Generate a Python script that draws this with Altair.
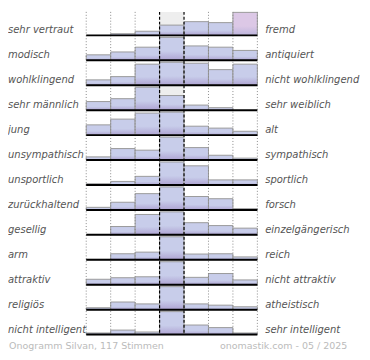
import altair as alt
import pandas as pd

left_labels = ["sehr vertraut", "modisch", "wohlklingend", "sehr männlich", "\u00a0jung",
               "unsympathisch", "unsportlich", "zurückhaltend", "gesellig", "arm",
               "attraktiv", "religiös", "nicht intelligent"]
right_labels = ["fremd", "antiquiert", "nicht wohlklingend", "sehr weiblich", "alt",
                "sympathisch", "sportlich", "forsch", "einzelgängerisch", "reich",
                "nicht attraktiv", "atheistisch", "sehr intelligent"]
# bar heights per row (7 steps), relative to the row maximum (=24)
heights = [
    [0, 1.7, 4.3, 10.7, 14.3, 13.3, 24],
    [5.7, 8.7, 13.7, 24, 15, 13.7, 10.3],
    [5.6, 9, 22, 24, 23, 16.3, 22],
    [9, 12, 24, 15.3, 5.3, 2.6, 0],
    [10.7, 16.7, 23, 24, 9.3, 7.3, 4],
    [3.3, 12, 10.3, 24, 13, 5, 2],
    [1.3, 3.7, 9, 24, 20, 5.3, 5.3],
    [2.7, 8, 17, 24, 14, 11.7, 1.3],
    [0, 8.7, 21.3, 24, 12.7, 9.7, 7],
    [0.4, 6.3, 8, 24, 6, 6.3, 3],
    [5.7, 7.3, 8.3, 24, 7.7, 11.7, 5],
    [2, 8, 6, 24, 6, 4.7, 3],
    [1.7, 4.7, 2.7, 24, 10, 7.3, 1.7],
]
highlight = [(0, 6)]
footer_left = "Onogramm Silvan, 117 Stimmen"
footer_right = "onomastik.com - 05 / 2025"

# layout
W, H = 362, 352
STEP = 25.5
MAXH = 23.5
FIRST = 24.0
COLW = 25.0
X0 = 80.0
nrows = len(left_labels)

def yu(px):
    return px / STEP

def xu(px):
    return (px - X0) / COLW

base = [yu(FIRST + STEP * i) for i in range(nrows)]
last = base[-1]

bars = []
for i, row in enumerate(heights):
    for k, h in enumerate(row):
        if h <= 0:
            continue
        bars.append(dict(x=k, x2=k + 1, y=base[i], y2=base[i] - yu(MAXH * h / 24.0),
                         hi=(i, k) in highlight))
bars = pd.DataFrame(bars)

xs = alt.Scale(domain=[xu(0), xu(W)], nice=False, zero=False)
ys = alt.Scale(domain=[0, yu(H)], nice=False, zero=False, reverse=True)
X = lambda f: alt.X(f, type="quantitative", scale=xs, axis=None)
Y = lambda f: alt.Y(f, type="quantitative", scale=ys, axis=None)

bg = alt.Chart(pd.DataFrame([dict(x=3, x2=4, y=0, y2=last)])).mark_rect(color="#eeeeee").encode(
    x=X("x"), x2="x2", y=Y("y"), y2="y2")

def grad(c1, c2):
    return {"gradient": "linear", "x1": 0, "y1": 0, "x2": 0, "y2": 1,
            "stops": [{"offset": 0, "color": c1}, {"offset": 0.6, "color": c1},
                      {"offset": 1, "color": c2}]}

b1 = alt.Chart(bars[~bars.hi]).mark_rect(fill=grad("#c8cdea", "#aea3d2"), stroke="#9a9a9a", strokeWidth=1).encode(
    x=X("x"), x2="x2", y=Y("y"), y2="y2")
b2 = alt.Chart(bars[bars.hi]).mark_rect(fill=grad("#dcc8e6", "#bcb4dc"), stroke="#9a9a9a", strokeWidth=1).encode(
    x=X("x"), x2="x2", y=Y("y"), y2="y2")

dots = alt.Chart(pd.DataFrame(dict(x=[0, 1, 2, 5, 6, 7], y=0, y2=last))).mark_rule(
    color="#888888", strokeDash=[1, 2], strokeWidth=1).encode(x=X("x"), y=Y("y"), y2="y2")
dash = alt.Chart(pd.DataFrame(dict(x=[3, 4], y=0, y2=last))).mark_rule(
    color="#000000", strokeDash=[3, 2], strokeWidth=1.2).encode(x=X("x"), y=Y("y"), y2="y2")

baselines = alt.Chart(pd.DataFrame(dict(x=0, x2=7, y=base))).mark_rule(
    color="#000000", strokeWidth=2).encode(x=X("x"), x2="x2", y=Y("y"))

lab = pd.DataFrame(dict(l=left_labels, r=right_labels, y=[b - yu(5) for b in base],
                        xl=xu(0), xr=xu(263)))
ltxt = alt.Chart(lab).mark_text(align="left", baseline="middle", font="DejaVu Sans", fontStyle="italic",
                                fontSize=10.2, color="#555555").encode(
    x=X("xl"), y=Y("y"), text="l")
rtxt = alt.Chart(lab).mark_text(align="left", baseline="middle", font="DejaVu Sans", fontStyle="italic",
                                fontSize=10.2, color="#555555").encode(
    x=X("xr"), y=Y("y"), text="r")

foot = pd.DataFrame(dict(t=[footer_left, footer_right], x=[xu(1), xu(347)], y=yu(345)))
f1 = alt.Chart(foot.iloc[[0]]).mark_text(align="left", baseline="alphabetic", font="DejaVu Sans",
                                          fontSize=9.7, color="#bbbbbb").encode(x=X("x"), y=Y("y"), text="t")
f2 = alt.Chart(foot.iloc[[1]]).mark_text(align="right", baseline="alphabetic", font="DejaVu Sans",
                                          fontSize=9.7, color="#bbbbbb").encode(x=X("x"), y=Y("y"), text="t")

chart = alt.layer(bg, b1, b2, dots, dash, baselines, ltxt, rtxt, f1, f2).properties(
    width=W, height=H, autosize=alt.AutoSizeParams(type="none"), padding=0
).configure_view(stroke=None)

chart.save("out.html", embed_options={"renderer": "svg", "actions": False})
